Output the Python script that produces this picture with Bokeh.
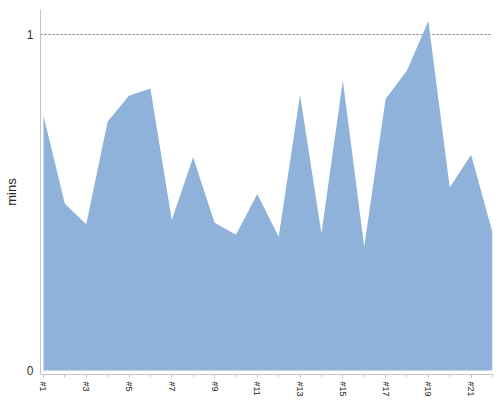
from bokeh.plotting import figure
from bokeh.models import ColumnDataSource, FixedTicker, Range1d
from bokeh.embed import file_html
from bokeh.resources import INLINE

# ---- data ----
runs = list(range(1, 23))
run_labels = ["#%d" % i for i in runs]
mins = [0.758, 0.496, 0.435, 0.741, 0.818, 0.839, 0.448, 0.635, 0.440, 0.404, 0.525,
        0.398, 0.819, 0.408, 0.863, 0.368, 0.808, 0.893, 1.040, 0.545, 0.642, 0.411]
y_ticks = [0, 1]
ref_level = [1]

src = ColumnDataSource(dict(x=runs, y=mins, base=[0] * len(runs)))

p = figure(frame_width=452, frame_height=365,
           min_border_left=20, min_border_right=1, min_border_top=9, min_border_bottom=10,
           x_range=Range1d(0.86, 22), y_range=Range1d(-0.0119, 1.0744),
           output_backend="svg", toolbar_location=None)
p.outline_line_color = None
p.background_fill_color = "white"

p.varea(x="x", y1="base", y2="y", source=src, fill_color="#8fb2da", fill_alpha=1.0)

# grid: only the dashed reference line at 1
p.xgrid.visible = False
p.ygrid.ticker = FixedTicker(ticks=ref_level)
p.ygrid.grid_line_color = "#777777"
p.ygrid.grid_line_dash = "2 2"
p.ygrid.grid_line_width = 1

# x axis
xa = p.xaxis[0]
xa.ticker = FixedTicker(ticks=runs)
xa.major_label_overrides = {r: (lab if r % 2 == 1 else "") for r, lab in zip(runs, run_labels)}
xa.major_label_orientation = "vertical"
xa.major_label_text_font = "Liberation Sans"
xa.major_label_text_font_size = "9px"
xa.major_label_text_color = "#222222"
xa.major_label_standoff = 4
xa.major_tick_out = 3
xa.major_tick_in = 0
xa.minor_tick_out = 0
xa.minor_tick_in = 0
xa.axis_line_color = "#c4c4c4"
xa.major_tick_line_color = "#c4c4c4"

# y axis
ya = p.yaxis[0]
ya.ticker = FixedTicker(ticks=y_ticks)
ya.major_label_text_font = "Liberation Sans"
ya.major_label_text_font_size = "12px"
ya.major_label_text_color = "#333333"
ya.major_label_standoff = 7
ya.major_tick_out = 0
ya.major_tick_in = 0
ya.minor_tick_out = 0
ya.minor_tick_in = 0
ya.axis_line_color = "#c4c4c4"
ya.axis_label = "mins"
ya.axis_label_text_font = "Liberation Sans"
ya.axis_label_text_font_size = "13px"
ya.axis_label_text_font_style = "normal"
ya.axis_label_text_color = "#222222"
ya.axis_label_standoff = 5

open("out.html", "w").write(file_html(p, INLINE))
